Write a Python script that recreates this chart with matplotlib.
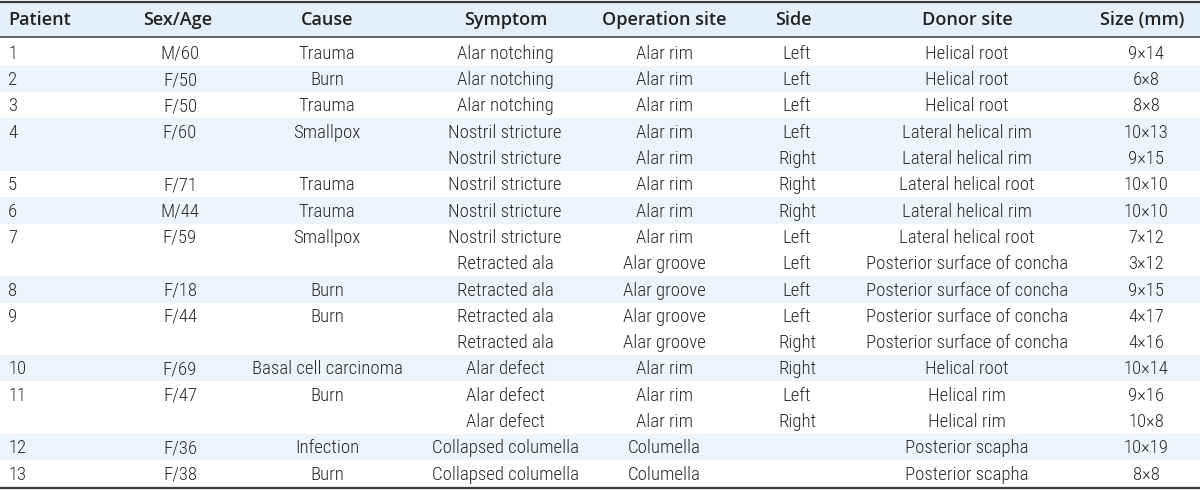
import matplotlib
matplotlib.use("Agg")
import matplotlib.pyplot as plt
from matplotlib.patches import Rectangle
from matplotlib import font_manager as fm

# ---- data ----
headers = ["Patient", "Sex/Age", "Cause", "Symptom", "Operation site", "Side", "Donor site", "Size (mm)"]
patients = ["1", "2", "3", "4", "", "5", "6", "7", "", "8", "9", "", "10", "11", "", "12", "13"]
sex_age = ["M/60", "F/50", "F/50", "F/60", "", "F/71", "M/44", "F/59", "", "F/18", "F/44", "", "F/69", "F/47", "", "F/36", "F/38"]
cause = ["Trauma", "Burn", "Trauma", "Smallpox", "", "Trauma", "Trauma", "Smallpox", "", "Burn", "Burn", "",
         "Basal cell carcinoma", "Burn", "", "Infection", "Burn"]
symptom = ["Alar notching", "Alar notching", "Alar notching", "Nostril stricture", "Nostril stricture",
           "Nostril stricture", "Nostril stricture", "Nostril stricture", "Retracted ala", "Retracted ala",
           "Retracted ala", "Retracted ala", "Alar defect", "Alar defect", "Alar defect",
           "Collapsed columella", "Collapsed columella"]
operation_site = ["Alar rim", "Alar rim", "Alar rim", "Alar rim", "Alar rim", "Alar rim", "Alar rim", "Alar rim",
                  "Alar groove", "Alar groove", "Alar groove", "Alar groove", "Alar rim", "Alar rim", "Alar rim",
                  "Columella", "Columella"]
side = ["Left", "Left", "Left", "Left", "Right", "Right", "Right", "Left", "Left", "Left", "Left", "Right",
        "Right", "Left", "Right", "", ""]
donor_site = ["Helical root", "Helical root", "Helical root", "Lateral helical rim", "Lateral helical rim",
              "Lateral helical root", "Lateral helical rim", "Lateral helical root",
              "Posterior surface of concha", "Posterior surface of concha", "Posterior surface of concha",
              "Posterior surface of concha", "Helical root", "Helical rim", "Helical rim",
              "Posterior scapha", "Posterior scapha"]
size_mm = ["9×14", "6×8", "8×8", "10×13", "9×15", "10×10", "10×10", "7×12", "3×12", "9×15", "4×17", "4×16",
           "10×14", "9×16", "10×8", "10×19", "8×8"]

columns = [patients, sex_age, cause, symptom, operation_site, side, donor_site, size_mm]

# ---- font choice: prefer a condensed face for the body ----
available = {f.name for f in fm.fontManager.ttflist}
condensed_faces = {f.name for f in fm.fontManager.ttflist
                   if (isinstance(f.stretch, str) and "condensed" in f.stretch) or
                   (isinstance(f.stretch, int) and f.stretch < 500)}
body_kw = dict(family=["DejaVu Sans"], stretch="condensed")
for cand in ["Roboto Condensed", "Liberation Sans Narrow", "Open Sans Condensed", "Noto Sans Condensed"]:
    if cand in available:
        body_kw = dict(family=[cand, "DejaVu Sans"])
        break
else:
    if "Roboto" in condensed_faces:
        body_kw = dict(family=["Roboto", "DejaVu Sans"], stretch="condensed")
    elif "DejaVu Sans" in condensed_faces:
        body_kw = dict(family=["DejaVu Sans"], stretch="condensed")

# ---- layout / style ----
W, H = 1200, 491
fig = plt.figure(figsize=(W / 100, H / 100), dpi=100)
ax = fig.add_axes([0, 0, 1, 1])
ax.set_xlim(0, W)
ax.set_ylim(H, 0)
ax.axis("off")

col_x = [8, 180, 327, 505, 664, 797, 967, 1146]
col_ha = ["left"] + ["center"] * 7
head_x = [8, 178, 327, 506, 664, 793, 967, 1142]

header_top, header_bot = 2, 37
row0, row_h = 39.5, 26.3
n = len(patients)
table_bot = row0 + n * row_h

header_bg = "#e3eff9"
band_bg = "#edf5fc"
rule_c = "#3a3a3a"
head_font = ["Open Sans", "DejaVu Sans"]

ax.add_patch(Rectangle((0, header_top), W, header_bot - header_top, color=header_bg, lw=0))

current = 0
for i, p in enumerate(patients):
    if p:
        current = int(p)
    if current % 2 == 0:
        ax.add_patch(Rectangle((0, row0 + i * row_h), W, row_h, color=band_bg, lw=0))

ax.plot([0, W], [header_top, header_top], color=rule_c, lw=1.6, solid_capstyle="butt")
ax.plot([0, W], [header_bot, header_bot], color=rule_c, lw=1.1, solid_capstyle="butt")
ax.plot([0, W], [table_bot + 1.5, table_bot + 1.5], color=rule_c, lw=1.6, solid_capstyle="butt")

for h, x, ha in zip(headers, head_x, col_ha):
    ax.text(x, (header_top + header_bot) / 2 + 0.5, h, ha=ha, va="center", fontsize=13,
            family=head_font, weight="semibold", color="#222222")

for col, x, ha in zip(columns, col_x, col_ha):
    for i, v in enumerate(col):
        if v:
            ax.text(x, row0 + (i + 0.5) * row_h + 1.2, v, ha=ha, va="center", fontsize=13.5,
                    color="#2a2a2a", weight="light", **body_kw)

fig.savefig("out.png", dpi=100)
